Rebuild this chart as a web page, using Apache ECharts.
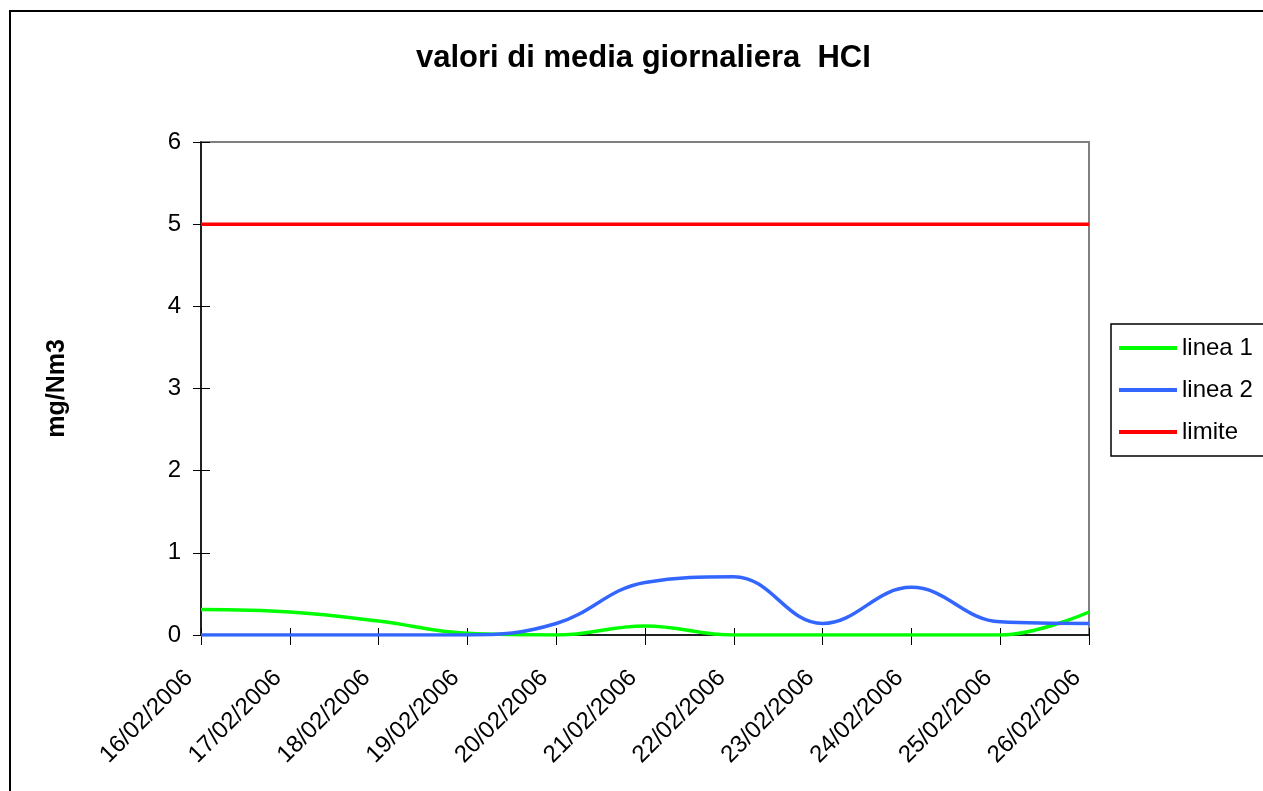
<!DOCTYPE html>
<html>
<head>
<meta charset="utf-8">
<title>valori di media giornaliera HCI</title>
<script src="https://cdn.jsdelivr.net/npm/echarts@6/dist/echarts.min.js"></script>
<style>
  html, body { margin: 0; padding: 0; background: #fff; }
  #chart { width: 1263px; height: 791px; }
</style>
</head>
<body>
<div id="chart"></div>
<script>
// days on the x axis
const dates = ['16/02/2006', '17/02/2006', '18/02/2006', '19/02/2006', '20/02/2006', '21/02/2006',
  '22/02/2006', '23/02/2006', '24/02/2006', '25/02/2006', '26/02/2006'];

// daily averages, mg/Nm3
const linea1 = [0.31, 0.28, 0.17, 0.02, 0, 0.11, 0, 0, 0, 0, 0.28];
const linea2 = [0, 0, 0, 0, 0.14, 0.64, 0.71, 0.14, 0.58, 0.16, 0.14];
const limite = [5, 5, 5, 5, 5, 5, 5, 5, 5, 5, 5];

const yTicks = [0, 1, 2, 3, 4, 5, 6];

const font = "'Liberation Sans', Arial, sans-serif";

const chart = echarts.init(document.getElementById('chart'));

const lineSeries = (name, data, color) => ({
  name: name,
  type: 'line',
  data: data,
  smooth: 0.4,
  symbol: 'none',
  lineStyle: { color: color, width: 3.5 },
  itemStyle: { color: color }
});

chart.setOption({
  animation: false,
  textStyle: { fontFamily: font },
  title: {
    text: 'valori di media giornaliera  HCI',
    left: 411,
    top: 38,
    textStyle: { fontSize: 31, fontWeight: 'bold', color: '#000', fontFamily: font }
  },
  legend: {
    data: ['linea 1', 'linea 2', 'limite'],
    orient: 'vertical',
    left: 1111,
    top: 324,
    icon: 'rect',
    itemWidth: 58,
    itemHeight: 4,
    itemGap: 18,
    padding: [12, 40, 12, 8],
    borderColor: '#000',
    borderWidth: 1.5,
    textStyle: { fontSize: 24, color: '#000', fontFamily: font }
  },
  grid: {
    left: 201,
    right: 174,
    top: 142,
    bottom: 156,
    show: true,
    borderColor: '#808080',
    borderWidth: 2
  },
  xAxis: [{
    type: 'category',
    data: dates,
    boundaryGap: false,
    axisLine: { lineStyle: { color: '#000', width: 1.5 } },
    axisTick: { interval: 0, length: 10, lineStyle: { color: '#000' } },
    axisLabel: {
      interval: 0, rotate: 45, margin: 27, padding: [0, 17, 0, 0],
      fontSize: 24, color: '#000', fontFamily: font
    },
    splitLine: { show: false }
  }, {
    type: 'category',
    data: dates,
    boundaryGap: false,
    position: 'bottom',
    offset: 0,
    axisLine: { show: false },
    axisTick: { inside: true, interval: 0, length: 7, lineStyle: { color: '#000' } },
    axisLabel: { show: false },
    splitLine: { show: false }
  }],
  yAxis: [{
    type: 'value',
    min: yTicks[0],
    max: yTicks[yTicks.length - 1],
    interval: 1,
    name: 'mg/Nm3',
    nameLocation: 'middle',
    nameGap: 131,
    nameTextStyle: { fontSize: 25, fontWeight: 'bold', color: '#000', fontFamily: font },
    axisLine: { show: true, lineStyle: { color: '#000', width: 1.5 } },
    axisTick: { show: true, length: 8, lineStyle: { color: '#000' } },
    axisLabel: { margin: 20, fontSize: 24, color: '#000', fontFamily: font },
    splitLine: { show: false }
  }, {
    type: 'value',
    min: yTicks[0],
    max: yTicks[yTicks.length - 1],
    interval: 1,
    position: 'left',
    offset: 0,
    axisLine: { show: false },
    axisTick: { show: true, inside: true, length: 9, lineStyle: { color: '#000' } },
    axisLabel: { show: false },
    splitLine: { show: false }
  }],
  graphic: [{
    type: 'rect',
    silent: true,
    z: -1,
    shape: { x: 10, y: 11, width: 1400, height: 900 },
    style: { fill: 'none', stroke: '#000', lineWidth: 2 }
  }],
  series: [
    lineSeries('linea 1', linea1, '#00ff00'),
    lineSeries('linea 2', linea2, '#3366ff'),
    lineSeries('limite', limite, '#ff0000')
  ]
});
</script>
</body>
</html>
